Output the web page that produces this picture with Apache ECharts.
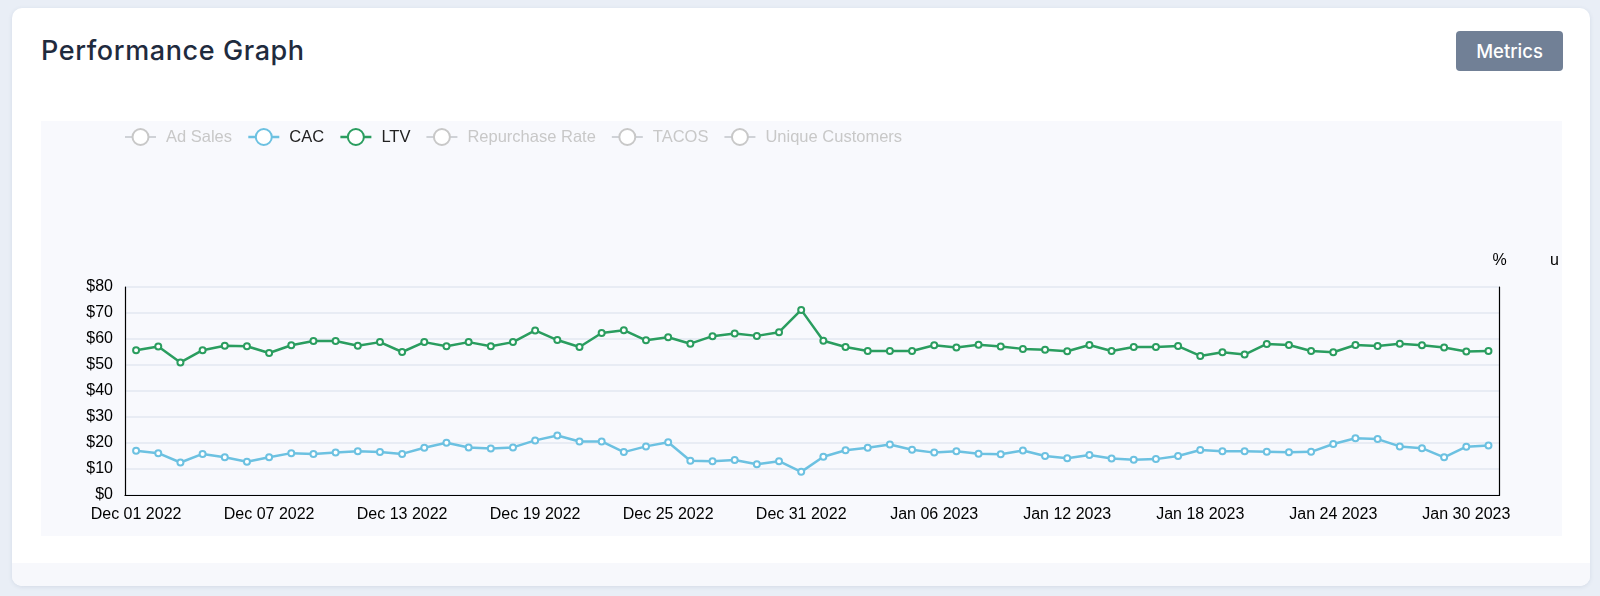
<!DOCTYPE html>
<html>
<head>
<meta charset="utf-8">
<script src="https://cdn.jsdelivr.net/npm/echarts@6/dist/echarts.min.js"></script>
<style>
  body { margin: 0; background: #e9eef6; width: 1600px; height: 596px; overflow: hidden; font-family: Inter, "Open Sans", sans-serif; }
  .card { position: absolute; left: 12px; top: 8px; width: 1578px; height: 578px; background: #fff; border-radius: 10px; box-shadow: 0 1px 4px rgba(60,80,120,0.12); overflow: hidden; }
  .card .foot { position: absolute; left: 0; right: 0; bottom: 0; height: 23px; background: #f7f8fc; }
  .title { position: absolute; left: 29px; top: 26px; font-size: 27px; font-weight: 500; letter-spacing: 0.6px; color: #1f2b3e; }
  .btn { position: absolute; left: 1444px; top: 23px; width: 107px; height: 40px; line-height: 40px; text-align: center; background: #718096; color: #fff; font-size: 18.5px; font-weight: 500; border-radius: 4px; }
  #chart { position: absolute; left: 41px; top: 121px; width: 1521px; height: 415px; background: #f8f9fd; }
</style>
</head>
<body>
<div class="card">
  <div class="title">Performance Graph</div>
  <div class="btn">Metrics</div>
  <div class="foot"></div>
</div>
<div id="chart"></div>
<script>
var dates = [
  'Dec 01 2022','Dec 02 2022','Dec 03 2022','Dec 04 2022','Dec 05 2022','Dec 06 2022','Dec 07 2022','Dec 08 2022',
  'Dec 09 2022','Dec 10 2022','Dec 11 2022','Dec 12 2022','Dec 13 2022','Dec 14 2022','Dec 15 2022','Dec 16 2022',
  'Dec 17 2022','Dec 18 2022','Dec 19 2022','Dec 20 2022','Dec 21 2022','Dec 22 2022','Dec 23 2022','Dec 24 2022',
  'Dec 25 2022','Dec 26 2022','Dec 27 2022','Dec 28 2022','Dec 29 2022','Dec 30 2022','Dec 31 2022',
  'Jan 01 2023','Jan 02 2023','Jan 03 2023','Jan 04 2023','Jan 05 2023','Jan 06 2023','Jan 07 2023','Jan 08 2023',
  'Jan 09 2023','Jan 10 2023','Jan 11 2023','Jan 12 2023','Jan 13 2023','Jan 14 2023','Jan 15 2023','Jan 16 2023',
  'Jan 17 2023','Jan 18 2023','Jan 19 2023','Jan 20 2023','Jan 21 2023','Jan 22 2023','Jan 23 2023','Jan 24 2023',
  'Jan 25 2023','Jan 26 2023','Jan 27 2023','Jan 28 2023','Jan 29 2023','Jan 30 2023','Jan 31 2023'
];

// CAC ($)
var cac = [
  17.0, 16.1, 12.5, 15.8, 14.5, 12.8, 14.5, 16.1, 15.8, 16.3, 16.8, 16.5, 15.8, 18.2, 20.1, 18.3,
  17.9, 18.3, 21.0, 22.9, 20.6, 20.6, 16.5, 18.7, 20.3, 13.2, 13.0, 13.5, 11.8, 13.0, 8.9,
  14.7, 17.2, 18.2, 19.4, 17.4, 16.3, 16.8, 15.9, 15.7, 17.1, 15.0, 14.1, 15.4, 14.0, 13.6, 13.8,
  15.0, 17.3, 16.8, 16.8, 16.6, 16.4, 16.6, 19.6, 21.8, 21.5, 18.7, 18.0, 14.5, 18.6, 19.0
];

// LTV ($)
var ltv = [
  55.7, 57.1, 51.0, 55.7, 57.4, 57.2, 54.6, 57.6, 59.2, 59.2, 57.4, 58.8, 55.0, 58.8, 57.2, 58.8,
  57.2, 58.8, 63.3, 59.6, 56.9, 62.3, 63.4, 59.5, 60.7, 58.2, 61.1, 62.1, 61.2, 62.6, 71.2,
  59.3, 56.9, 55.4, 55.4, 55.4, 57.6, 56.7, 57.8, 57.1, 56.2, 55.9, 55.3, 57.7, 55.4, 56.9, 56.9,
  57.3, 53.5, 54.9, 54.0, 58.1, 57.7, 55.4, 54.9, 57.7, 57.3, 58.2, 57.6, 56.7, 55.2, 55.4
];

var metricNames = ['Ad Sales', 'CAC', 'LTV', 'Repurchase Rate', 'TACOS', 'Unique Customers'];

var chart = echarts.init(document.getElementById('chart'));

var lineSeries = function (name, data, color, axis) {
  return {
    name: name,
    type: 'line',
    yAxisIndex: axis,
    data: data,
    symbol: 'emptyCircle',
    symbolSize: 6,
    color: color,
    lineStyle: { width: 2.5, color: color },
    itemStyle: { color: color, borderWidth: 2 }
  };
};

chart.setOption({
  animation: false,
  textStyle: { fontFamily: 'Liberation Sans, Arial, sans-serif' },
  legend: {
    data: metricNames,
    left: 78,
    top: 2,
    itemWidth: 31,
    itemHeight: 20,
    itemGap: 15,
    itemStyle: { borderWidth: 2.5 },
    lineStyle: { width: 2.5 },
    textStyle: { fontSize: 16.5, color: '#222', padding: [0, 0, 0, 5] },
    inactiveColor: '#c8c8c8',
    selected: {
      'Ad Sales': false, 'CAC': true, 'LTV': true,
      'Repurchase Rate': false, 'TACOS': false, 'Unique Customers': false
    }
  },
  grid: { left: 84, right: 54, top: 166, bottom: 41 },
  xAxis: {
    type: 'category',
    data: dates,
    boundaryGap: true,
    axisLine: { lineStyle: { color: '#000', width: 1.2 } },
    axisTick: { alignWithLabel: true, interval: 5, length: 6, lineStyle: { color: '#000' } },
    axisLabel: { interval: 5, color: '#000', fontSize: 16, margin: 12 }
  },
  yAxis: [
    {
      type: 'value',
      min: 0, max: 80, interval: 10,
      axisLine: { show: true, lineStyle: { color: '#000', width: 1.2 } },
      axisTick: { show: false },
      axisLabel: { color: '#000', fontSize: 16, margin: 12, formatter: '${value}' },
      splitLine: { lineStyle: { color: '#e3e7f0', width: 1.5 } }
    },
    {
      type: 'value',
      position: 'right',
      name: '%',
      nameGap: 18,
      nameTextStyle: { color: '#000', fontSize: 16 },
      axisLine: { show: true, lineStyle: { color: '#000', width: 1.2 } },
      axisTick: { show: false },
      axisLabel: { show: false },
      splitLine: { show: false }
    },
    {
      type: 'value',
      position: 'right',
      offset: 55,
      name: 'u',
      nameGap: 18,
      nameTextStyle: { color: '#000', fontSize: 16 },
      axisLine: { show: false },
      axisTick: { show: false },
      axisLabel: { show: false },
      splitLine: { show: false }
    }
  ],
  series: [
    lineSeries('Ad Sales', [], '#5470c6', 0),
    lineSeries('CAC', cac, '#6cc1e1', 0),
    lineSeries('LTV', ltv, '#2a9d5f', 0),
    lineSeries('Repurchase Rate', [], '#fac858', 1),
    lineSeries('TACOS', [], '#ee6666', 1),
    lineSeries('Unique Customers', [], '#9a60b4', 2)
  ]
});
</script>
</body>
</html>
